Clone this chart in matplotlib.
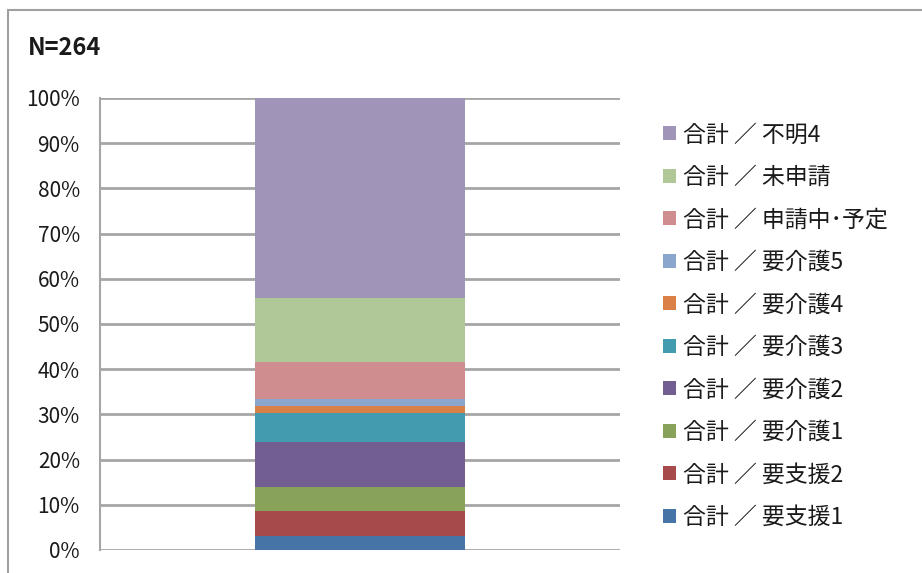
import matplotlib
matplotlib.use('Agg')
from matplotlib import pyplot as plt
from matplotlib.patches import Rectangle, Patch
from matplotlib.ticker import FixedLocator

plt.rcParams['font.family'] = ['Noto Sans CJK JP', 'DejaVu Sans']

# 回答数 (N=264) ― 下から積み上げる順
categories = ['合計 ／ 要支援1', '合計 ／ 要支援2', '合計 ／ 要介護1', '合計 ／ 要介護2',
              '合計 ／ 要介護3', '合計 ／ 要介護4', '合計 ／ 要介護5',
              '合計 ／ 申請中･予定', '合計 ／ 未申請', '合計 ／ 不明4']
counts = [8, 15, 14, 26, 17, 4, 4, 22, 37, 117]
colors = ['#4674A7', '#A74A4C', '#89A259', '#725E91', '#439BB0',
          '#DA8148', '#8AA6CC', '#CF8D8F', '#B0C798', '#A094B8']
tick_labels = ['0%', '10%', '20%', '30%', '40%', '50%', '60%', '70%', '80%', '90%', '100%']

total = sum(counts)
shares = [c / total * 100 for c in counts]

fig = plt.figure(figsize=(9.22, 5.73), dpi=100)
W, H = 922, 573

# chart frame
fig.patches.append(Rectangle((8 / W, -0.05), 1.0, (H - 10) / H + 0.05,
                             transform=fig.transFigure, fill=False,
                             edgecolor='#A0A0A0', linewidth=1.5))

ax = fig.add_axes([100 / W, (H - 550) / H, 520 / W, 452 / H])

bottom = 0
for cat, val, col in zip(categories, shares, colors):
    ax.bar(0, val, width=0.402, bottom=bottom, color=col, label=cat, zorder=3)
    bottom += val

ax.set_xlim(-0.5, 0.5)
ax.set_ylim(0, 100)
ax.yaxis.set_major_locator(FixedLocator(range(0, 101, 10)))
ax.set_yticklabels(tick_labels, fontsize=15, color='#1A1A1A')
ax.set_xticks([])
ax.tick_params(axis='y', length=0, pad=14.5)
ax.grid(axis='y', color='#A6A6A6', linewidth=2, zorder=0)
for s in ['top', 'right', 'bottom']:
    ax.spines[s].set_visible(False)
ax.spines['left'].set_color('#A6A6A6')
ax.spines['left'].set_linewidth(1.5)

fig.text(28 / W, 1 - 48 / H, 'N=264', fontsize=17, fontweight='bold',
         va='center', ha='left', color='#1A1A1A')

handles = [Patch(facecolor=c, edgecolor='none') for c in colors][::-1]
leg = fig.legend(handles, categories[::-1], loc='upper left',
                 bbox_to_anchor=(652 / W, 1 - 112 / H), frameon=False,
                 fontsize=16.5, handlelength=0.55, handleheight=0.55,
                 handletextpad=0.3, labelspacing=0.85, borderpad=0)
for t in leg.get_texts():
    t.set_color('#1A1A1A')

fig.savefig('out.png', dpi=100)
